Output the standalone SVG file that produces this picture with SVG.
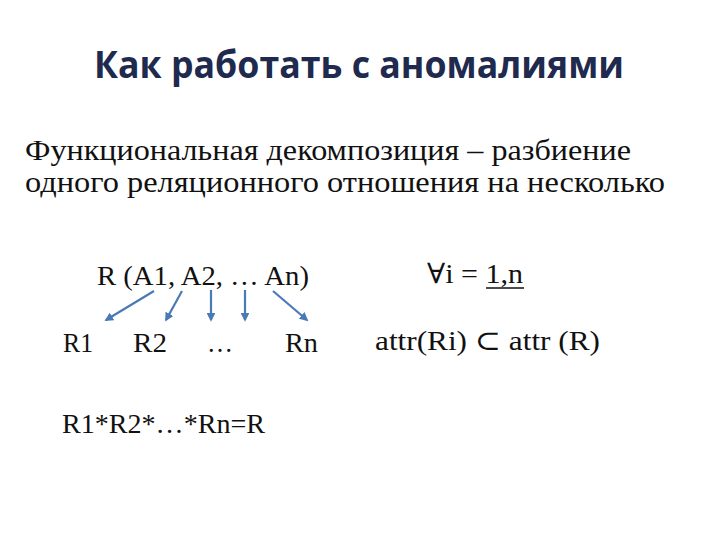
<svg xmlns="http://www.w3.org/2000/svg" width="720" height="540" viewBox="0 0 720 540">
<defs>
<style>
.t{font-family:"Open Sans","Liberation Sans",sans-serif;font-weight:bold;fill:#1f2a4f}
.s{font-family:"Liberation Serif","DejaVu Serif",serif;fill:#111}
.m{font-size:28px}
.c line{stroke:#4a7ab5;stroke-width:2.2;marker-end:url(#a)}
</style>
<marker id="a" viewBox="0 0 10 10" refX="8" refY="5" markerWidth="4" markerHeight="4" orient="auto" markerUnits="strokeWidth">
<path d="M0,0 L10,5 L0,10 z" fill="#4a7ab5"/>
</marker>
</defs>
<rect width="720" height="540" fill="#fff"/>
<g id="title"><text class="t" x="94" y="78" font-size="37" textLength="530" lengthAdjust="spacingAndGlyphs">Как работать с аномалиями</text></g>
<g id="body">
<text class="s" x="25" y="160" font-size="30" textLength="606" lengthAdjust="spacingAndGlyphs">Функциональная декомпозиция – разбиение</text>
<text class="s" x="25" y="192" font-size="30" textLength="640" lengthAdjust="spacingAndGlyphs">одного реляционного отношения на несколько</text>
</g>
<g id="R"><text class="s m" x="97" y="285" textLength="212" lengthAdjust="spacingAndGlyphs">R (A1, A2, … An)</text></g>
<g id="forall"><text class="s m" x="427" y="283" textLength="96" lengthAdjust="spacingAndGlyphs">∀i = 1,n</text>
<line x1="486" y1="288" x2="524" y2="288" stroke="#111" stroke-width="1.5"/></g>
<g id="R1"><text class="s m" x="63" y="352" textLength="30" lengthAdjust="spacingAndGlyphs">R1</text></g>
<g id="R2"><text class="s m" x="133" y="352" textLength="34" lengthAdjust="spacingAndGlyphs">R2</text></g>
<g id="dots"><text class="s m" x="207" y="352" textLength="26" lengthAdjust="spacingAndGlyphs">…</text></g>
<g id="Rn"><text class="s m" x="285" y="352" textLength="33" lengthAdjust="spacingAndGlyphs">Rn</text></g>
<g id="attr"><text class="s m" x="375" y="350" textLength="225" lengthAdjust="spacingAndGlyphs">attr(Ri) ⊂ attr (R)</text></g>
<g id="prod"><text class="s m" x="62" y="433" textLength="203" lengthAdjust="spacingAndGlyphs">R1*R2*…*Rn=R</text></g>
<g class="c" id="connectors">
<line x1="154" y1="291" x2="106" y2="320"/>
<line x1="182" y1="291" x2="166" y2="320"/>
<line x1="211" y1="290" x2="211" y2="320"/>
<line x1="245" y1="290" x2="245" y2="320"/>
<line x1="273" y1="291" x2="307" y2="320"/>
</g>
</svg>
